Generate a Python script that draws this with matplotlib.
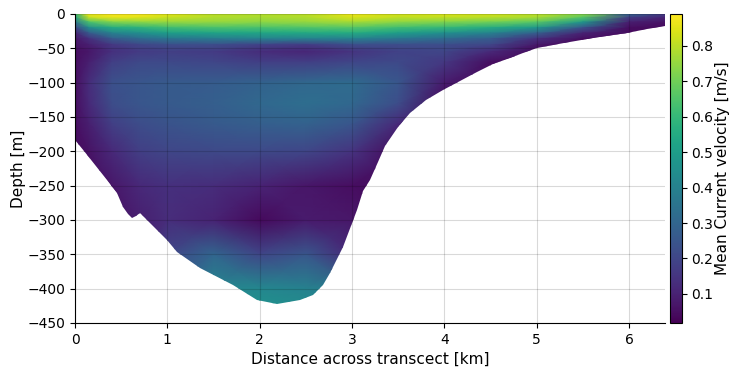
import matplotlib
matplotlib.use("Agg")
import matplotlib.pyplot as plt
import numpy as np
from matplotlib.patches import Polygon

# stations across the transect [km] and depth levels [m]
distance = [0.0, 0.15, 0.4, 0.7, 1.0, 1.5, 2.0, 2.5, 3.0, 3.5, 4.0, 4.5, 5.0, 5.5, 6.0, 6.4]
depth = [0, -5, -12, -20, -28, -36, -45, -55, -70, -100, -130, -160, -200, -250, -300, -350, -400, -430]

# mean current velocity [m/s], one row per depth level
velocity = [
    [.62, .86, .88, .88, .85, .80, .79, .80, .86, .83, .84, .83, .80, .74, .30, .18],
    [.52, .82, .86, .85, .82, .79, .78, .79, .84, .81, .81, .80, .78, .66, .18, .10],
    [.36, .64, .72, .74, .75, .75, .74, .75, .77, .74, .72, .70, .66, .48, .09, .06],
    [.20, .44, .55, .58, .62, .64, .64, .65, .66, .62, .60, .55, .48, .24, .05, .04],
    [.10, .26, .40, .45, .50, .52, .53, .54, .55, .50, .45, .40, .28, .10, .04, .04],
    [.07, .14, .26, .32, .36, .38, .40, .40, .40, .36, .32, .27, .14, .05, .04, .04],
    [.06, .09, .16, .20, .22, .22, .19, .17, .22, .22, .22, .20, .07, .04, .04, .04],
    [.05, .07, .14, .17, .18, .17, .13, .11, .15, .19, .20, .12, .04, .04, .04, .04],
    [.05, .09, .18, .21, .21, .20, .18, .18, .20, .21, .16, .05, .04, .04, .04, .04],
    [.05, .13, .23, .25, .26, .27, .29, .31, .32, .25, .08, .04, .04, .04, .04, .04],
    [.05, .12, .22, .25, .26, .28, .31, .33, .31, .22, .04, .04, .04, .04, .04, .04],
    [.05, .09, .18, .22, .24, .26, .28, .29, .25, .12, .04, .04, .04, .04, .04, .04],
    [.04, .06, .12, .18, .20, .21, .21, .20, .15, .04, .04, .04, .04, .04, .04, .04],
    [.04, .05, .07, .12, .14, .13, .10, .07, .05, .04, .04, .04, .04, .04, .04, .04],
    [.04, .04, .06, .09, .13, .10, .04, .08, .07, .04, .04, .04, .04, .04, .04, .04],
    [.04, .04, .06, .07, .20, .30, .20, .25, .12, .04, .04, .04, .04, .04, .04, .04],
    [.04, .04, .06, .07, .24, .42, .42, .40, .38, .04, .04, .04, .04, .04, .04, .04],
    [.04, .04, .06, .07, .24, .45, .46, .44, .40, .04, .04, .04, .04, .04, .04, .04],
]

# bathymetry along the transect
bottom_x = [0.0, 0.1, 0.35, 0.45, 0.52, 0.57, 0.62, 0.66, 0.70, 1.0, 1.1, 1.35, 1.71,
            1.97, 2.19, 2.44, 2.58, 2.69, 2.76, 2.90, 3.05, 3.12, 3.20, 3.28, 3.36,
            3.50, 3.63, 3.80, 3.99, 4.17, 4.35, 4.53, 4.71, 4.85, 5.0, 5.3, 5.61,
            5.98, 6.2, 6.39]
bottom_z = [-183, -200, -242, -261, -281, -292, -297, -294, -290, -329, -346, -370, -395,
            -417, -423, -416, -409, -395, -377, -339, -285, -258, -242, -215, -193,
            -165, -144, -126, -111, -97, -84, -73, -64, -57, -50, -42, -35,
            -28, -22, -17]

vmin, vmax = 0.018, 0.89

fig = plt.figure(figsize=(7.32, 3.67), dpi=100)
ax = fig.add_axes([0.1025, 0.12, 0.806, 0.842])
cax = fig.add_axes([0.9155, 0.12, 0.0160, 0.842])

X, Z = np.meshgrid(distance, depth)
mesh = ax.pcolormesh(X, Z, np.array(velocity), cmap="viridis", shading="gouraud",
                     vmin=vmin, vmax=vmax)

# clip the section to the water column
outline = [(0, 0)] + list(zip(bottom_x, bottom_z)) + [(bottom_x[-1], 0)]
clip = Polygon(outline, closed=True, transform=ax.transData)
mesh.set_clip_path(clip)

ax.set_xlim(0, 6.39)
ax.set_ylim(-450, 0)
ax.set_xlabel("Distance across transcect [km]", fontsize=11)
ax.set_ylabel("Depth [m]", fontsize=11, labelpad=1)
ax.grid(True, color="k", alpha=0.15, lw=0.8)
ax.spines["top"].set_visible(False)
ax.spines["right"].set_visible(False)
ax.tick_params(labelsize=10)

cb = fig.colorbar(mesh, cax=cax)
cb.set_label("Mean Current velocity [m/s]", fontsize=11, labelpad=1)
cb.ax.tick_params(labelsize=10)

fig.savefig("out.png", dpi=100)
